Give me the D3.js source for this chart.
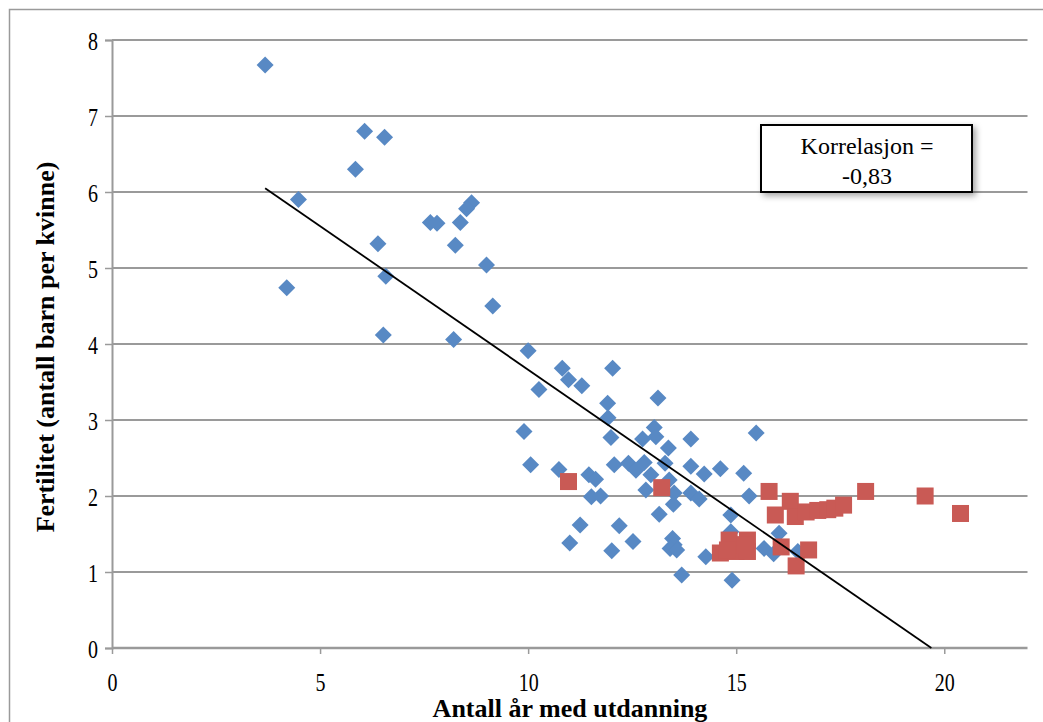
<!DOCTYPE html>
<html>
<head>
<meta charset="utf-8">
<script src="https://cdn.jsdelivr.net/npm/d3@7"></script>
<style>
  body { margin: 0; background: #fff; }
  text { font-family: "Liberation Serif", "Times New Roman", serif; }
</style>
</head>
<body>
<div id="chart"></div>
<script>
// Blue series (diamonds)
const blueX = [3.68, 6.07, 6.55, 5.85, 4.48, 8.64, 8.52, 7.65, 7.81, 8.37, 6.39, 8.25, 9.00, 6.58, 4.20, 9.15, 6.52, 8.21,
  10.00, 10.82, 10.97, 12.03, 11.29, 10.26, 13.12, 11.91, 11.92, 9.90, 13.03, 13.07, 11.99, 12.75, 13.91, 15.48, 13.37,
  10.06, 10.74, 11.46, 11.62, 12.07, 12.41, 12.59, 12.79, 12.95, 13.29, 13.91, 14.23, 14.62, 15.18, 13.39, 12.83, 13.51,
  13.91, 14.11, 15.31, 11.52, 11.74, 13.49, 13.15, 14.87, 11.25, 12.19, 11.00, 12.01, 12.52, 13.47, 13.51, 13.41, 13.57,
  13.69, 14.27, 14.90, 15.67, 16.03, 15.90, 14.87, 16.48];
const blueY = [7.67, 6.80, 6.72, 6.30, 5.90, 5.86, 5.78, 5.60, 5.59, 5.60, 5.32, 5.30, 5.04, 4.89, 4.74, 4.50, 4.12, 4.06,
  3.91, 3.68, 3.53, 3.68, 3.45, 3.40, 3.29, 3.22, 3.03, 2.85, 2.90, 2.78, 2.77, 2.75, 2.75, 2.83, 2.63,
  2.41, 2.35, 2.28, 2.22, 2.41, 2.43, 2.34, 2.44, 2.28, 2.43, 2.39, 2.29, 2.36, 2.30, 2.21, 2.08, 2.04,
  2.04, 1.96, 2.00, 1.99, 2.00, 1.89, 1.76, 1.75, 1.62, 1.61, 1.38, 1.28, 1.40, 1.44, 1.36, 1.31, 1.29,
  0.96, 1.20, 0.89, 1.31, 1.51, 1.24, 1.53, 1.27];

// Red series (squares)
const redX = [10.97, 13.21, 15.79, 16.30, 15.94, 16.42, 16.68, 16.96, 17.20, 17.37, 17.58, 18.11, 19.54, 20.39,
  14.83, 14.62, 15.00, 15.27, 15.27, 14.79, 15.20, 16.08, 16.74, 16.44];
const redY = [2.19, 2.11, 2.06, 1.93, 1.75, 1.73, 1.79, 1.81, 1.82, 1.84, 1.88, 2.06, 2.00, 1.77,
  1.42, 1.25, 1.27, 1.42, 1.27, 1.29, 1.36, 1.33, 1.29, 1.08];

// Trend line end points
const trendX = [3.68, 19.69];
const trendY = [6.05, 0];

const xTicks = [0, 5, 10, 15, 20];
const yTicks = [0, 1, 2, 3, 4, 5, 6, 7, 8];

const width = 1043;
const height = 722;
const serif = "'Liberation Serif', 'Times New Roman', serif";
const stretch = 1.22; // labels in the picture look a bit tall

const svg = d3.select("#chart")
              .append("svg")
              .attr("width", width)
              .attr("height", height);

const defs = svg.append("defs");
const shadow = defs.append("filter").attr("id", "shadow")
                   .attr("x", "-10%").attr("y", "-10%").attr("width", "130%").attr("height", "140%");
shadow.append("feDropShadow")
      .attr("dx", 3).attr("dy", 3).attr("stdDeviation", 3)
      .attr("flood-color", "#000").attr("flood-opacity", 0.35);

// Outer chart border
svg.append("rect")
   .attr("x", 9.5).attr("y", 9.5)
   .attr("width", width + 10).attr("height", height + 10)
   .attr("fill", "none")
   .attr("stroke", "#9a9a9a")
   .attr("stroke-width", 1.5);

const x = d3.scaleLinear().domain([0, 22]).range([112, 1027.5]);
const y = d3.scaleLinear().domain([0, 8]).range([648, 40]);

// Gridlines
svg.append("g")
   .selectAll("line")
   .data(yTicks.filter(d => d > 0))
   .join("line")
   .attr("x1", x(0)).attr("x2", x(22))
   .attr("y1", d => y(d)).attr("y2", d => y(d))
   .attr("stroke", "#9a9a9a")
   .attr("stroke-width", 2);

// Y axis
const yAxis = svg.append("g")
   .attr("transform", `translate(${x(0)},0)`)
   .attr("font-family", serif)
   .call(d3.axisLeft(y).tickValues(yTicks).tickSize(7).tickPadding(7).tickFormat(d3.format("d")));
yAxis.select(".domain").attr("stroke", "#9a9a9a").attr("stroke-width", 2);
yAxis.selectAll(".tick line").attr("stroke", "#9a9a9a").attr("stroke-width", 1.5);
yAxis.selectAll("text")
     .attr("font-size", 20).attr("fill", "#000")
     .attr("dy", "0.33em")
     .attr("y", 1 / stretch)
     .attr("transform", `scale(1,${stretch})`);

// X axis
const xAxis = svg.append("g")
   .attr("transform", `translate(0,${y(0)})`)
   .attr("font-family", serif)
   .call(d3.axisBottom(x).tickValues(xTicks).tickSize(6).tickFormat(d3.format("d")));
xAxis.select(".domain").attr("stroke", "#9a9a9a").attr("stroke-width", 2.5)
     .attr("d", `M${x(0)},0H${x(22)}`);
xAxis.selectAll(".tick line").attr("stroke", "#9a9a9a").attr("stroke-width", 1.5);
xAxis.selectAll("text")
     .attr("font-size", 20).attr("fill", "#000")
     .attr("dy", null)
     .attr("y", 43 / stretch)
     .attr("transform", `scale(1,${stretch})`);

// Blue diamonds
const blue = blueX.map((v, i) => ({ x: v, y: blueY[i] }));
svg.append("g")
   .selectAll("path")
   .data(blue)
   .join("path")
   .attr("transform", d => `translate(${x(d.x)},${y(d.y)})`)
   .attr("d", "M0,-8.5L8.5,0L0,8.5L-8.5,0Z")
   .attr("fill", "#5889c4");

// Red squares
const red = redX.map((v, i) => ({ x: v, y: redY[i] }));
svg.append("g")
   .selectAll("rect")
   .data(red)
   .join("rect")
   .attr("x", d => x(d.x) - 8.5)
   .attr("y", d => y(d.y) - 8.5)
   .attr("width", 17)
   .attr("height", 17)
   .attr("fill", "#c95a55");

// Trend line
svg.append("line")
   .attr("x1", x(trendX[0])).attr("y1", y(trendY[0]))
   .attr("x2", x(trendX[1])).attr("y2", y(trendY[1]))
   .attr("stroke", "#000")
   .attr("stroke-width", 1.8);

// Correlation text box
const box = svg.append("g").attr("font-family", serif);
box.append("rect")
   .attr("x", 761).attr("y", 125)
   .attr("width", 211).attr("height", 67)
   .attr("fill", "#fff")
   .attr("stroke", "#000")
   .attr("stroke-width", 2)
   .attr("filter", "url(#shadow)");
box.append("text")
   .attr("x", 867).attr("y", 154)
   .attr("text-anchor", "middle")
   .attr("font-size", 24)
   .text("Korrelasjon =");
box.append("text")
   .attr("x", 867).attr("y", 184)
   .attr("text-anchor", "middle")
   .attr("font-size", 24)
   .text("-0,83");

// Axis titles
svg.append("text")
   .attr("x", 570)
   .attr("y", 717)
   .attr("text-anchor", "middle")
   .attr("font-family", serif)
   .attr("font-size", 26)
   .attr("font-weight", "bold")
   .text("Antall år med utdanning");

svg.append("text")
   .attr("transform", "translate(54,347) rotate(-90)")
   .attr("text-anchor", "middle")
   .attr("font-family", serif)
   .attr("font-size", 26)
   .attr("font-weight", "bold")
   .text("Fertilitet (antall barn per kvinne)");
</script>
</body>
</html>
